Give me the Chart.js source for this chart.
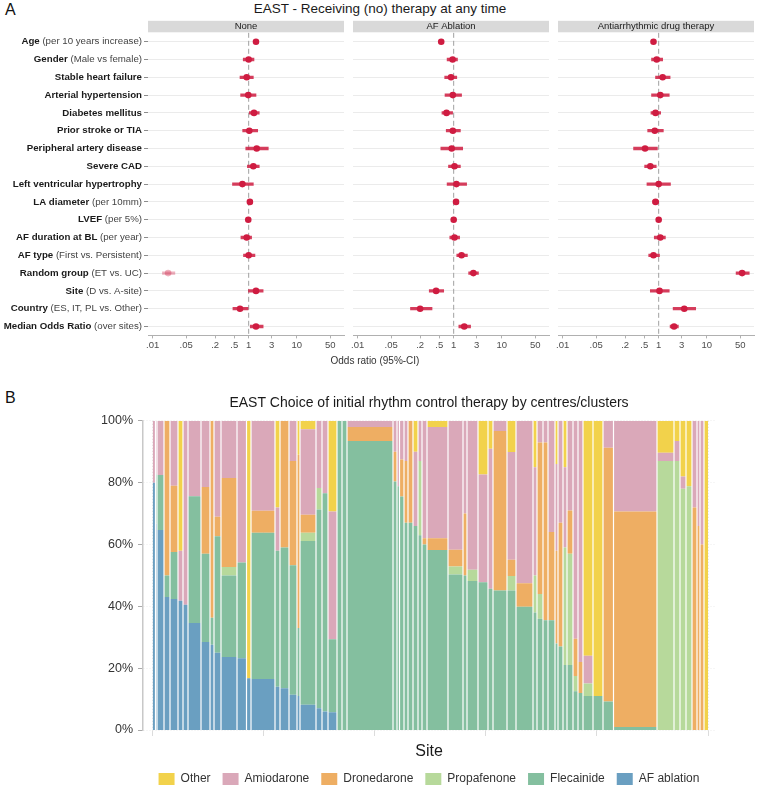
<!DOCTYPE html>
<html>
<head>
<meta charset="utf-8">
<title>EAST therapy by site</title>
<script src="https://cdn.jsdelivr.net/npm/chart.js@4.4.1/dist/chart.umd.min.js"></script>
<style>
  body { margin: 0; background: #fff; font-family: "Liberation Sans", Arial, sans-serif; }
  #page { position: relative; width: 760px; height: 791px; overflow: hidden; background: #fff; }
  .abs { position: absolute; }
  .tag { font-size: 16px; line-height: 16px; color: #111; }
</style>
</head>
<body>
<div id="page">
  <div class="abs tag" style="left:5px;top:2px">A</div>
  <div class="abs" style="left:0;top:1px;width:760px;text-align:center;font-size:13.5px;line-height:16px;color:#1a1a1a">EAST - Receiving (no) therapy at any time</div>
  <canvas id="facet0" class="abs" width="350" height="375" style="left:0;top:0"></canvas>
  <canvas id="facet1" class="abs" width="214" height="375" style="left:341px;top:0"></canvas>
  <canvas id="facet2" class="abs" width="214" height="375" style="left:546px;top:0"></canvas>
  <div class="abs" style="left:0;top:355px;width:750px;text-align:center;font-size:10px;line-height:12px;color:#333">Odds ratio (95%-CI)</div>
  <div class="abs tag" style="left:5px;top:390px">B</div>
  <canvas id="sites" class="abs" width="760" height="410" style="left:0;top:385px"></canvas>
</div>

<script>
Chart.defaults.font.family = '"Liberation Sans", Arial, sans-serif';

// ---- panel A: odds ratios ----
const rowMain = ['Age', 'Gender', 'Stable heart failure', 'Arterial hypertension', 'Diabetes mellitus',
  'Prior stroke or TIA', 'Peripheral artery disease', 'Severe CAD', 'Left ventricular hypertrophy',
  'LA diameter', 'LVEF', 'AF duration at BL', 'AF type', 'Random group', 'Site', 'Country', 'Median Odds Ratio'];
const rowNote = ['(per 10 years increase)', '(Male vs female)', '', '', '', '', '', '', '',
  '(per 10mm)', '(per 5%)', '(per year)', '(First vs. Persistent)', '(ET vs. UC)', '(D vs. A-site)',
  '(ES, IT, PL vs. Other)', '(over sites)'];
const facetNames = ['None', 'AF Ablation', 'Antiarrhythmic drug therapy'];

const orNone = [1.42, 1.0, 0.91, 0.98, 1.29, 1.03, 1.47, 1.25, 0.74, 1.06, 0.98, 0.91, 1.0, 0.021, 1.42, 0.66, 1.42];
const loNone = [1.35, 0.77, 0.66, 0.68, 1.03, 0.75, 0.87, 0.94, 0.46, 0.94, 0.94, 0.69, 0.78, 0.016, 0.99, 0.47, 1.08];
const hiNone = [1.5, 1.29, 1.25, 1.42, 1.66, 1.54, 2.56, 1.66, 1.25, 1.17, 1.02, 1.15, 1.35, 0.029, 2.0, 0.97, 2.0];

const orAbl = [0.55, 0.95, 0.88, 0.96, 0.71, 0.96, 0.91, 1.04, 1.14, 1.12, 1.0, 1.04, 1.46, 2.57, 0.43, 0.2, 1.66];
const loAbl = [0.5, 0.73, 0.65, 0.66, 0.57, 0.7, 0.54, 0.78, 0.73, 1.02, 0.95, 0.83, 1.16, 2.05, 0.31, 0.126, 1.28];
const hiAbl = [0.6, 1.2, 1.16, 1.46, 0.95, 1.38, 1.54, 1.38, 1.86, 1.23, 1.06, 1.33, 1.93, 3.28, 0.62, 0.354, 2.25];

const orAad = [0.78, 0.91, 1.21, 1.08, 0.86, 0.83, 0.52, 0.67, 1.0, 0.86, 1.0, 1.08, 0.78, 54.7, 1.04, 3.41, 2.09];
const loAad = [0.72, 0.71, 0.86, 0.71, 0.69, 0.59, 0.3, 0.51, 0.57, 0.75, 0.95, 0.81, 0.62, 41, 0.67, 2.0, 1.73];
const hiAad = [0.85, 1.21, 1.73, 1.66, 1.1, 1.25, 0.94, 0.89, 1.76, 1.0, 1.06, 1.38, 1.04, 77, 1.66, 5.9, 2.57];

const oddsTicks = [0.01, 0.05, 0.2, 0.5, 1, 3, 10, 50];
const oddsTickLabels = ['.01', '.05', '.2', '.5', '1', '3', '10', '50'];

const facetOr = [orNone, orAbl, orAad];
const facetLo = [loNone, loAbl, loAad];
const facetHi = [hiNone, hiAbl, hiAad];
const rowLabels = rowMain.map((m, i) => rowNote[i] ? m + ' ' + rowNote[i] : m);

const red = '#cf1c41';
const redBar = 'rgba(207,28,65,0.85)';
const redFaded = 'rgba(207,28,65,0.35)';
const fontFam = '"Liberation Sans", Arial, sans-serif';

const facetDecor = {
  id: 'facetDecor',
  beforeDatasetsDraw(chart) {
    const {ctx, chartArea: a, scales: {x}} = chart;
    const px = x.getPixelForValue(1);
    ctx.save();
    ctx.strokeStyle = '#a0a0a0';
    ctx.lineWidth = 1;
    ctx.setLineDash([5, 3]);
    ctx.beginPath();
    ctx.moveTo(px, a.top);
    ctx.lineTo(px, a.bottom);
    ctx.stroke();
    ctx.restore();
  },
  afterDraw(chart, args, opts) {
    const {ctx, chartArea: a, scales: {y}} = chart;
    ctx.save();
    // facet strip
    ctx.fillStyle = '#d9d9d9';
    ctx.fillRect(a.left, a.top - 12, a.right - a.left, 11.5);
    ctx.fillStyle = '#1a1a1a';
    ctx.font = '9.5px ' + fontFam;
    ctx.textAlign = 'center';
    ctx.textBaseline = 'middle';
    ctx.fillText(opts.name, (a.left + a.right) / 2, a.top - 6);
    // row labels: bold name + plain note
    if (opts.labels) {
      ctx.textAlign = 'right';
      rowMain.forEach((m, i) => {
        const py = y.getPixelForTick(i);
        let xr = a.left - 6;
        if (rowNote[i]) {
          ctx.font = '9.7px ' + fontFam;
          ctx.fillStyle = '#444';
          ctx.fillText(rowNote[i], xr, py);
          xr -= ctx.measureText(rowNote[i]).width + ctx.measureText(' ').width;
        }
        ctx.font = 'bold 9.7px ' + fontFam;
        ctx.fillStyle = '#1a1a1a';
        ctx.fillText(m, xr, py);
      });
    }
    ctx.restore();
  }
};

function facetChart(id, k) {
  const first = k === 0;
  const pointColor = c => (first && rowMain[c.dataIndex] === 'Random group') ? redFaded : red;
  const barColor = c => (first && rowMain[c.dataIndex] === 'Random group') ? redFaded : redBar;
  new Chart(document.getElementById(id), {
    type: 'bar',
    data: {
      labels: rowLabels,
      datasets: [
        {
          type: 'line', indexAxis: 'y', data: facetOr[k], showLine: false,
          pointRadius: 3.3, pointBorderWidth: 0, pointBackgroundColor: pointColor
        },
        {
          type: 'bar', indexAxis: 'y', data: facetLo[k].map((lo, i) => [lo, facetHi[k][i]]),
          barThickness: 2.6, backgroundColor: barColor, borderWidth: 0
        }
      ]
    },
    plugins: [facetDecor],
    options: {
      responsive: false,
      animation: false,
      indexAxis: 'y',
      layout: { padding: { left: first ? 0 : 12, right: 6, top: 32.8, bottom: 0 } },
      plugins: {
        legend: { display: false },
        tooltip: { enabled: false },
        facetDecor: { name: facetNames[k], labels: first }
      },
      scales: {
        x: {
          type: 'logarithmic', min: 0.008, max: 96.7,
          afterBuildTicks: s => { s.ticks = oddsTicks.map(v => ({ value: v })); },
          afterFit: s => { s.height = 39.6; },
          ticks: {
            autoSkip: false, maxRotation: 0, padding: 1, color: '#4d4d4d', font: { size: 9.5 },
            callback: (v, i) => oddsTickLabels[i]
          },
          grid: { drawOnChartArea: false, tickLength: 3, tickColor: '#b0b0b0' },
          border: { color: '#b0b0b0' }
        },
        y: {
          ticks: { display: false },
          afterFit: s => { s.width = first ? 148 : 0; },
          grid: { offset: false, color: '#ebebeb', drawTicks: first, tickLength: 4, tickColor: '#8c8c8c' },
          border: { display: false }
        }
      }
    }
  });
}
facetChart('facet0', 0);
facetChart('facet1', 1);
facetChart('facet2', 2);

// ---- panel B: therapy mix per site (bar width = site size) ----
const siteSize = [2.8, 1.5, 7, 6, 8, 5, 5, 13, 9, 4, 7, 16, 9.5, 4.5, 24, 5, 9, 8, 3, 16,
  6, 6, 9, 5, 5, 46, 4, 2.5, 4.5, 4, 5, 5, 4, 5, 21, 15, 4, 11, 10, 5,
  14, 9, 17, 4, 6, 5, 7, 3, 5, 4, 6, 5, 5, 10, 10, 10.5, 43.5, 17, 6, 6,
  6, 5, 3, 4, 4];
const afAblation = [80, 66.7, 64.7, 43, 42.4, 41.8, 40.5, 34.6, 28.5, 27.6, 25, 23.6, 23.2, 16.7, 16.5, 14, 13.5, 11.4, 11, 8.2,
  7, 6, 5.4, 0, 0, 0, 0, 0, 0, 0, 0, 0, 0, 0, 0, 0, 0, 0, 0, 0,
  0, 0, 0, 0, 0, 0, 0, 0, 0, 0, 0, 0, 0, 0, 0, 0, 0, 0, 0, 0,
  0, 0, 0, 0, 0];
const flecainide = [0, 16, 17.8, 7, 15.2, 0, 0, 41, 28.5, 8.7, 37.7, 26.4, 31, 0, 47.3, 44, 45.5, 41.9, 22, 52.9,
  64.3, 70.6, 22.3, 100, 100, 93.5, 80.4, 78.8, 75.5, 67, 67, 66, 63, 60, 58.2, 50.3, 50, 48.2, 47.8, 45.7,
  45.1, 45.1, 39.9, 38, 36, 35.5, 35.5, 28, 27, 21, 21, 12.5, 12, 11, 11, 9.2, 1, 0, 0, 0,
  0, 0, 0, 0, 0];
const propafenone = [0, 0, 0, 0, 0, 0, 0, 0, 0, 0, 0, 2.7, 0, 0, 0, 0, 0, 0, 0, 2.7,
  7, 0, 0, 0, 0, 0, 0, 0, 0, 0, 0, 0, 24, 0, 0, 2.6, 0, 3.6, 0, 0,
  0, 4.7, 0, 12, 8, 0, 0, 0, 0, 38, 36, 5, 0, 4, 0, 0, 0, 87, 87, 78,
  78.8, 0, 0, 0, 0];
const dronedarone = [0, 0, 0, 50, 21.4, 0, 0, 0, 21.6, 63.7, 6.3, 28.8, 0, 0, 7.1, 0, 41, 33.7, 56, 5.8,
  0, 0, 0, 0, 0, 4.5, 9.6, 0, 12, 20, 33, 0, 0, 2, 3.8, 5.4, 20, 0, 0, 0,
  51.6, 5.3, 7.6, 0, 49, 57.5, 28.5, 30, 40, 0, 14, 12, 10, 0, 0, 82.1, 69.7, 0, 0, 0,
  0, 72, 66, 60, 0];
const amiodarone = [20, 17.3, 17.5, 0, 21, 16.2, 59.5, 24.4, 21.4, 0, 31, 18.5, 45.8, 0, 29.1, 14, 0, 13, 0, 27.7,
  21.7, 23.4, 39.1, 0, 0, 2, 10, 21.2, 12.5, 13, 0, 24, 13, 38, 36, 41.7, 30, 48.2, 34.8, 45.3,
  3.3, 34.8, 52.5, 35, 7, 7, 36, 28, 33, 26, 29, 70.5, 78, 9, 0, 8.7, 29.3, 2.7, 6.5, 4,
  0, 28, 34, 40, 0];
const other = [0, 0, 0, 0, 0, 42, 0, 0, 0, 0, 0, 0, 0, 83.3, 0, 28, 0, 0, 11, 2.7,
  0, 0, 27.7, 0, 0, 0, 0, 0, 0, 0, 0, 10, 0, 0, 2, 0, 0, 0, 17.4, 9,
  0, 10.1, 0, 15, 0, 0, 0, 14, 0, 15, 0, 0, 0, 76, 89, 0, 0, 10.3, 6.5, 18,
  21.2, 0, 0, 0, 100];

const therapyNames = ['AF ablation', 'Flecainide', 'Propafenone', 'Dronedarone', 'Amiodarone', 'Other'];
const therapyShares = [afAblation, flecainide, propafenone, dronedarone, amiodarone, other];
const therapyColors = ['#6a9fc1', '#84bf9f', '#b7d99b', '#eeae63', '#daa8b9', '#f2d24b'];

const siteStarts = [];
let siteTotal = 0;
siteSize.forEach(w => { siteStarts.push(siteTotal); siteTotal += w; });
const siteSum = siteSize.map((_, i) => therapyShares.reduce((s, arr) => s + arr[i], 0));

const therapyDatasets = therapyShares.map((arr, k) => {
  const pts = arr.map((v, i) => ({ x: siteStarts[i], y: v / siteSum[i] * 100 }));
  pts.push({ x: siteTotal, y: pts[pts.length - 1].y });
  return {
    label: therapyNames[k],
    data: pts,
    stepped: true,
    fill: k === 0 ? 'origin' : '-1',
    backgroundColor: therapyColors[k],
    borderColor: therapyColors[k],
    borderWidth: 0,
    pointRadius: 0
  };
});

// thin white gaps between neighbouring sites
const siteGaps = {
  id: 'siteGaps',
  afterDatasetsDraw(chart) {
    const {ctx, scales: {x, y}} = chart;
    ctx.save();
    ctx.strokeStyle = '#ffffff';
    ctx.lineWidth = 1.2;
    siteStarts.slice(1).forEach(s => {
      const px = x.getPixelForValue(s);
      ctx.beginPath();
      ctx.moveTo(px, y.getPixelForValue(0));
      ctx.lineTo(px, y.getPixelForValue(100));
      ctx.stroke();
    });
    ctx.restore();
  }
};

new Chart(document.getElementById('sites'), {
  type: 'line',
  data: { datasets: therapyDatasets },
  plugins: [siteGaps],
  options: {
    responsive: false,
    animation: false,
    layout: { padding: { left: 0, right: 45, top: 0, bottom: 0 } },
    plugins: {
      title: {
        display: true, fullSize: false,
        text: 'EAST Choice of initial rhythm control therapy by centres/clusters',
        color: '#1a1a1a', font: { size: 14, weight: 'normal' }, padding: { top: 10, bottom: 9 }
      },
      legend: {
        position: 'bottom', fullSize: false, reverse: true,
        labels: { boxWidth: 16, boxHeight: 12, padding: 12, color: '#333', font: { size: 12 } }
      },
      tooltip: { enabled: false }
    },
    scales: {
      x: {
        type: 'linear', min: -9.7, max: siteTotal + 7,
        afterBuildTicks: s => { s.ticks = [0, 1, 2, 3, 4, 5].map(i => ({ value: siteTotal * i / 5 })); },
        afterFit: s => { s.height = 31; },
        ticks: { display: false },
        grid: { color: '#e3e3e3', tickLength: 6, tickColor: '#dcdcdc' },
        border: { display: false, dash: [1, 2] },
        title: { display: true, text: 'Site', color: '#1a1a1a', font: { size: 16 }, padding: 0 }
      },
      y: {
        stacked: true, min: 0, max: 100,
        afterFit: s => { s.width = 143; },
        ticks: { stepSize: 20, padding: 5, color: '#333', font: { size: 12.5 }, callback: v => v + '%' },
        grid: { color: '#ececec', tickLength: 5, tickColor: '#aaaaaa' },
        border: { color: '#c8c8c8', width: 1.5, dash: [1, 2] }
      }
    }
  }
});
</script>
</body>
</html>
